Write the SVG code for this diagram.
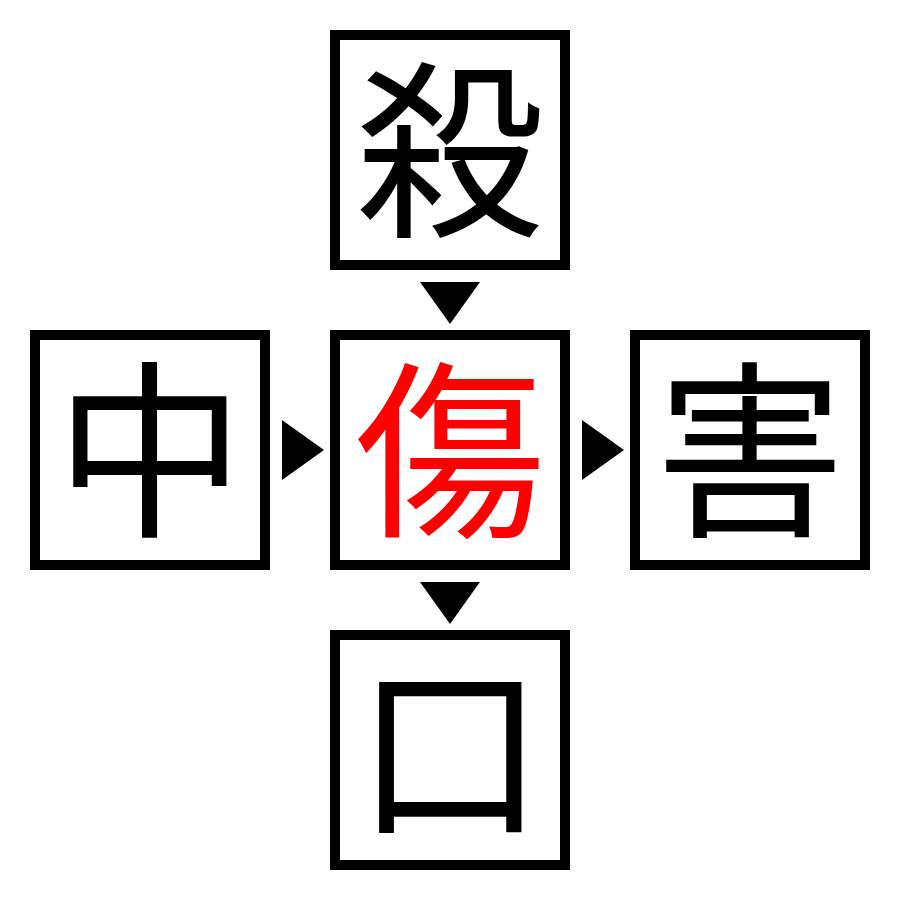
<svg xmlns="http://www.w3.org/2000/svg" width="900" height="900" viewBox="0 0 900 900">
<style>
.box{fill:#fff;stroke:#000;stroke-width:10}
.ch{font-family:"Noto Sans CJK JP","Noto Sans CJK SC",sans-serif;font-size:190px;text-anchor:middle;fill:#000}
.red{fill:#ff0000}
.arr{fill:#000}
</style>
<rect width="900" height="900" fill="#fff"/>
<g id="top"><rect class="box" x="335" y="35" width="230" height="230"/><text class="ch" x="450" y="222">殺</text></g>
<g id="left"><rect class="box" x="35" y="335" width="230" height="230"/><text class="ch" x="150" y="522">中</text></g>
<g id="center"><rect class="box" x="335" y="335" width="230" height="230"/><text class="ch red" x="450" y="522">傷</text></g>
<g id="right"><rect class="box" x="635" y="335" width="230" height="230"/><text class="ch" x="750" y="522">害</text></g>
<g id="bottom"><rect class="box" x="335" y="635" width="230" height="230"/><text class="ch" x="450" y="822">口</text></g>
<g id="connectors">
<polygon class="arr" points="420,282 480,282 450,324"/>
<polygon class="arr" points="282,420 282,480 324,450"/>
<polygon class="arr" points="582,420 582,480 624,450"/>
<polygon class="arr" points="420,582 480,582 450,624"/>
</g>
</svg>
